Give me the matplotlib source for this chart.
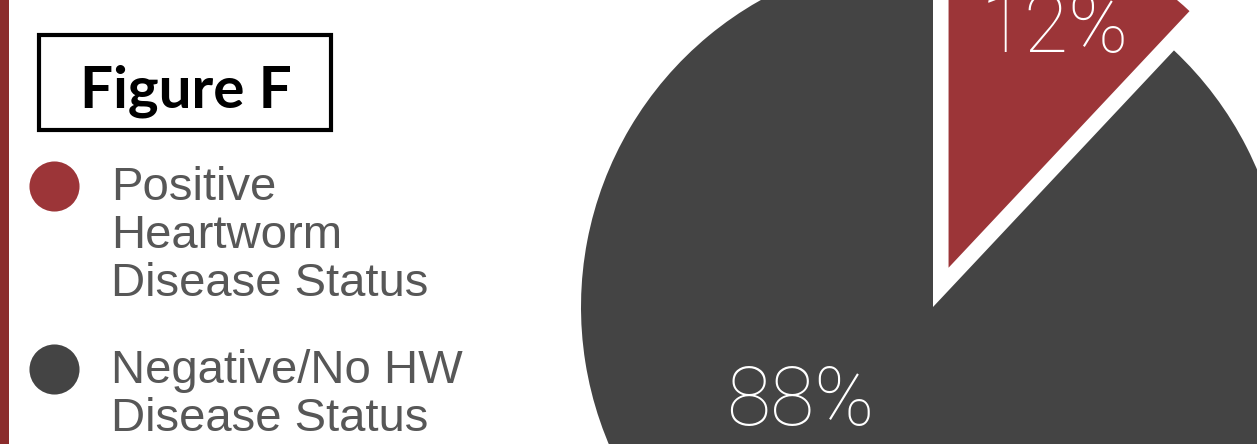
import matplotlib.pyplot as plt
from matplotlib.patches import Rectangle

# data
labels = ['Positive\nHeartworm\nDisease Status', 'Negative/No HW\nDisease Status']
values = [12, 88]
colors = ['#9c3538', '#444444']
explode = [0.12, 0.0]

W, H = 1257, 444
fig = plt.figure(figsize=(W / 100, H / 100), dpi=100)
fig.patch.set_facecolor('white')

# pie axes: center (933, 307) px from top-left, radius 352 px
cx, cy, r = 933, 307, 352
ax = fig.add_axes([(cx - r) / W, (H - cy - r) / H, 2 * r / W, 2 * r / H])
wedges, _ = ax.pie(values, colors=colors, explode=explode, startangle=90,
                   counterclock=False, radius=1.0)
ax.set_xlim(-1, 1)
ax.set_ylim(-1, 1)
ax.set_aspect('auto')
ax.axis('off')

# overlay axes in pixel coordinates for labels and legend
ov = fig.add_axes([0, 0, 1, 1])
ov.set_xlim(0, W)
ov.set_ylim(H, 0)
ov.axis('off')

pct_font = dict(family='Roboto', weight='light', size=58, color='white')
ov.text(1055, 52, f'{values[0]}%', ha='center', va='baseline', **pct_font)
ov.text(800, 425, f'{values[1]}%', ha='center', va='baseline', **pct_font)

# left border bar
ov.add_patch(Rectangle((0, 0), 9, H, color='#8b2c2c', lw=0))

# title box
ov.add_patch(Rectangle((39, 35), 292, 95, fill=False, ec='black', lw=3))
ov.text(186, 107, 'Figure F', ha='center', va='baseline', family='Lato',
        weight='bold', size=42, color='black')

# legend
baselines = [200, 383]
for lab, col, yb in zip(labels, colors, baselines):
    ov.scatter([54], [yb - 14], s=1300, color=col, lw=0)
    for i, line in enumerate(lab.split('\n')):
        ov.text(111, yb + i * 48, line, ha='left', va='baseline',
                family='Liberation Sans', size=34, color='#575757')

fig.savefig('out.png', dpi=100)
